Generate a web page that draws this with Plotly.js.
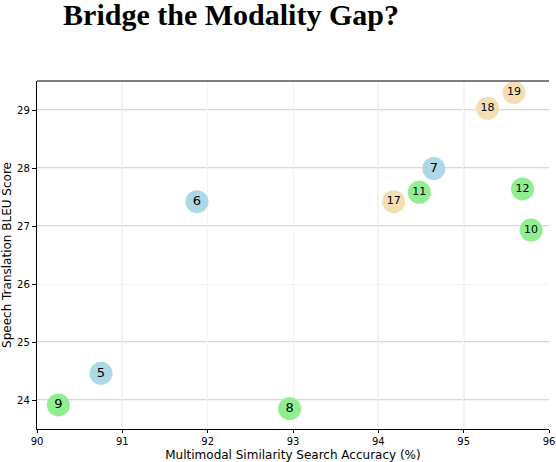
<!DOCTYPE html>
<html>
<head>
<meta charset="utf-8">
<script src="https://cdn.plot.ly/plotly-3.0.1.min.js"></script>
<style>html,body{margin:0;padding:0;background:#fff;}#chart{width:556px;height:462px;}</style>
</head>
<body>
<div id="chart"></div>
<script>
// Data
const labels = ["5", "6", "7", "8", "9", "10", "11", "12", "17", "18", "19"];
const accuracy = [90.75, 91.875, 94.65, 92.96, 90.25, 95.79, 94.48, 95.69, 94.18, 95.28, 95.59];
const bleu = [24.46, 27.42, 27.99, 23.85, 23.915, 26.93, 27.58, 27.64, 27.42, 29.03, 29.30];
const groups = ["blue", "blue", "blue", "green", "green", "green", "green", "green", "orange", "orange", "orange"];
const xTicks = [90, 91, 92, 93, 94, 95, 96];
const yTicks = [24, 25, 26, 27, 28, 29];
const strongX = [91, 94, 95];
const strongY = [24, 25, 27, 28, 29];

const palette = {blue: "#add8e6", green: "#90ee90", orange: "#f5deb3"};

const trace = {
  type: "scatter",
  mode: "markers+text",
  x: accuracy,
  y: bleu,
  text: labels,
  textposition: "middle center",
  textfont: {family: "DejaVu Sans", color: "#000", size: labels.map(l => l.length > 1 ? 11 : 13)},
  marker: {size: 23, color: groups.map(g => palette[g]), line: {width: 0}},
  hoverinfo: "skip",
  cliponaxis: false
};

const shapes = [];
strongX.forEach(v => shapes.push({type: "line", layer: "below", xref: "x", yref: "paper", x0: v, x1: v, y0: 0, y1: 1, line: {color: "#b0b0b0", width: 1}}));
strongY.forEach(v => shapes.push({type: "line", layer: "below", xref: "paper", yref: "y", x0: 0, x1: 1, y0: v, y1: v, line: {color: "#b0b0b0", width: 1}}));
shapes.push({type: "line", layer: "above", xref: "paper", yref: "paper", x0: 0, x1: 1, y0: 1, y1: 1, line: {color: "#000", width: 1.2}});

const layout = {
  width: 556,
  height: 462,
  margin: {l: 37, r: 7, t: 81, b: 33, pad: 0},
  paper_bgcolor: "#fff",
  plot_bgcolor: "#fff",
  showlegend: false,
  title: {
    text: "<b>Bridge the Modality Gap?</b>",
    font: {family: "Liberation Serif", size: 30, color: "#000"},
    xref: "container", yref: "container",
    x: 231 / 556, xanchor: "center",
    y: 1 - 4 / 462, yanchor: "top",
    pad: {t: 0, b: 0}
  },
  xaxis: {
    range: [90, 96],
    tickvals: xTicks,
    ticktext: xTicks.map(String),
    showgrid: true,
    gridcolor: "#f3f3f3",
    zeroline: false,
    showline: true,
    linecolor: "#000",
    linewidth: 1.2,
    ticks: "outside",
    ticklen: 3,
    tickcolor: "#000",
    tickfont: {family: "DejaVu Sans", size: 10, color: "#000"},
    title: {text: "Multimodal Similarity Search Accuracy (%)", font: {family: "DejaVu Sans", size: 12, color: "#000"}, standoff: 4}
  },
  yaxis: {
    range: [23.5, 29.5],
    tickvals: yTicks,
    ticktext: yTicks.map(String),
    showgrid: true,
    gridcolor: "#f3f3f3",
    zeroline: false,
    showline: true,
    linecolor: "#000",
    linewidth: 1.2,
    ticks: "outside",
    ticklen: 4,
    tickcolor: "#000",
    tickfont: {family: "DejaVu Sans", size: 10, color: "#000"},
    title: {text: "Speech Translation BLEU Score", font: {family: "DejaVu Sans", size: 12, color: "#000"}, standoff: 4}
  },
  shapes: shapes
};

Plotly.newPlot("chart", [trace], layout, {displayModeBar: false, staticPlot: true});
</script>
</body>
</html>
